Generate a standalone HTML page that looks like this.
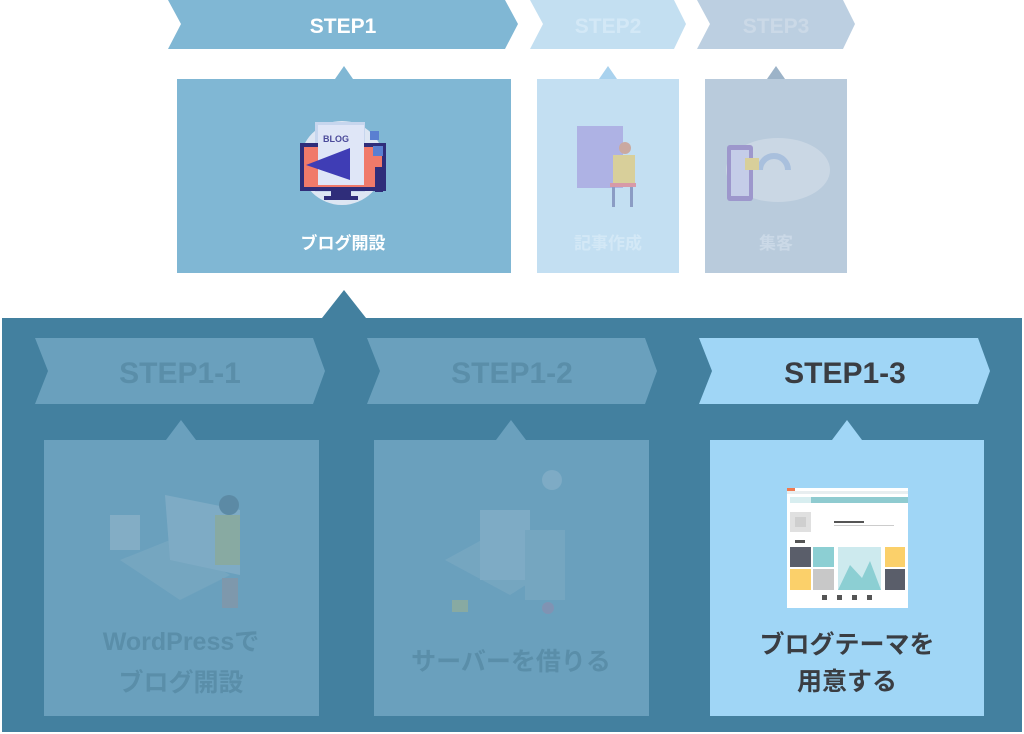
<!DOCTYPE html>
<html><head><meta charset="utf-8"><style>
html,body{margin:0;padding:0;background:#fff;}
svg{display:block;}
text{font-family:"Liberation Sans","Noto Sans CJK JP",sans-serif;font-weight:bold;text-anchor:middle;}
</style></head><body>
<svg width="1024" height="734" viewBox="0 0 1024 734" xmlns="http://www.w3.org/2000/svg">
<polygon points="168,0 505,0 518,24 505,49 168,49 181,24" fill="#80b7d4"/>
<polygon points="530,0 674,0 686,24 674,49 530,49 543,24" fill="#c3dff1"/>
<polygon points="697,0 843,0 855,24 843,49 697,49 710,24" fill="#bccfe1"/>
<text x="343" y="33" font-size="21" fill="#fff">STEP1</text>
<text x="608" y="33" font-size="21" fill="#d3e8f6">STEP2</text>
<text x="776" y="33" font-size="21" fill="#cbd9e7">STEP3</text>
<polygon points="344,66 353,79 335,79" fill="#80b7d4"/>
<rect x="177" y="79" width="334" height="194" fill="#80b7d4"/>
<polygon points="608,66 617,79 599,79" fill="#a9d2ee"/>
<rect x="537" y="79" width="142" height="194" fill="#c3dff2"/>
<polygon points="776,66 785,79 767,79" fill="#9cb3c8"/>
<rect x="705" y="79" width="142" height="194" fill="#b9cbdc"/>
<circle cx="342" cy="163" r="42" fill="#dde6f3"/>
<rect x="315" y="122" width="50" height="70" fill="#c7d6ee"/>
<rect x="300" y="143" width="86" height="48" fill="#2f2d7a"/>
<rect x="304" y="147" width="78" height="40" fill="#f07a6a"/>
<rect x="318" y="125" width="46" height="60" fill="#dfe6f7"/>
<text x="336" y="142" font-size="9" fill="#4b4a9a" font-weight="normal">BLOG</text>
<polygon points="306,165 350,148 350,180" fill="#3f3db5"/>
<rect x="331" y="191" width="20" height="6" fill="#2f2d7a"/>
<rect x="324" y="196" width="34" height="4" fill="#2f2d7a"/>
<rect x="375" y="167" width="8" height="25" fill="#2f2d7a"/>
<rect x="370" y="131" width="9" height="9" fill="#5a7fd1"/>
<rect x="373" y="146" width="10" height="10" fill="#5a7fd1"/>
<text x="343" y="249" font-size="17" fill="#fff">ブログ開設</text>
<rect x="577" y="126" width="46" height="62" fill="#a9a6e0" opacity=".8"/>
<rect x="613" y="155" width="22" height="28" fill="#d8cf9a"/>
<rect x="610" y="183" width="26" height="4" fill="#d79aa8"/>
<rect x="612" y="187" width="3" height="20" fill="#8b9cc4"/>
<rect x="630" y="187" width="3" height="20" fill="#8b9cc4"/>
<circle cx="625" cy="148" r="6" fill="#caa9a0"/>
<text x="608" y="249" font-size="17" fill="#d3e8f6">記事作成</text>
<ellipse cx="778" cy="170" rx="52" ry="32" fill="#cad7e4"/>
<rect x="727" y="145" width="26" height="56" rx="3" fill="#9d97cc"/>
<rect x="731" y="150" width="18" height="46" fill="#c5cde8"/>
<path d="M760 170 a14 14 0 1 1 28 0" stroke="#a9c0dd" stroke-width="6" fill="none"/>
<rect x="745" y="158" width="14" height="12" fill="#d8cf9a"/>
<text x="776" y="249" font-size="17" fill="#cbd9e7">集客</text>
<rect x="2" y="318" width="1020" height="414" fill="#43809f"/>
<polygon points="344,290 366,318 322,318" fill="#43809f"/>
<polygon points="35,338 313,338 325,371 313,404 35,404 48,371" fill="#6aa0bd"/>
<polygon points="367,338 645,338 657,371 645,404 367,404 380,371" fill="#6aa0bd"/>
<polygon points="699,338 978,338 990,371 978,404 699,404 712,371" fill="#a0d6f6"/>
<text x="180" y="383" font-size="30" fill="#5a8ea9">STEP1-1</text>
<text x="512" y="383" font-size="30" fill="#5a8ea9">STEP1-2</text>
<text x="845" y="383" font-size="30" fill="#3a3d42">STEP1-3</text>
<polygon points="181,420 196,440 166,440" fill="#6aa0bd"/>
<rect x="44" y="440" width="275" height="276" fill="#6aa0bd"/>
<polygon points="511,420 526,440 496,440" fill="#6aa0bd"/>
<rect x="374" y="440" width="275" height="276" fill="#6aa0bd"/>
<polygon points="847,420 862,440 832,440" fill="#a0d6f6"/>
<rect x="710" y="440" width="274" height="276" fill="#a0d6f6"/>
<g opacity=".32">
<polygon points="120,560 170,540 230,575 180,600" fill="#8fb3c8"/>
<polygon points="165,495 240,510 240,575 170,560" fill="#a9c4d6"/>
<rect x="215" y="515" width="25" height="50" fill="#c8c06a"/>
<rect x="110" y="515" width="30" height="35" fill="#b9c9d6"/>
<circle cx="229" cy="505" r="10" fill="#3f5f74"/>
<rect x="222" y="578" width="16" height="30" fill="#a88a8a"/>
</g>
<text x="181" y="650" font-size="25" fill="#5a8ea9">WordPressで</text>
<text x="181" y="691" font-size="25" fill="#5a8ea9">ブログ開設</text>
<g opacity=".32">
<polygon points="445,560 500,530 565,560 510,595" fill="#8fb3c8"/>
<rect x="480" y="510" width="50" height="70" fill="#a9c4d6"/>
<rect x="525" y="530" width="40" height="70" fill="#8fb3c8"/>
<circle cx="552" cy="480" r="10" fill="#a9c4d6"/>
<circle cx="548" cy="608" r="6" fill="#b07aa0"/>
<rect x="452" y="600" width="16" height="12" fill="#c8c06a"/>
</g>
<text x="511" y="670" font-size="25" fill="#5a8ea9">サーバーを借りる</text>
<rect x="787" y="488" width="121" height="120" fill="#fff"/>
<rect x="787" y="488" width="8" height="3" fill="#f07a50"/>
<rect x="787" y="491" width="121" height="3" fill="#e8eef0"/>
<rect x="811" y="497" width="97" height="6" fill="#8fcbd0"/>
<rect x="790" y="497" width="21" height="6" fill="#d8eef0"/>
<rect x="790" y="512" width="21" height="20" fill="#e0e0e0"/>
<rect x="795" y="517" width="11" height="10" fill="#cfcfcf"/>
<rect x="795" y="540" width="10" height="3" fill="#555"/>
<rect x="834" y="521" width="30" height="2" fill="#555"/>
<rect x="834" y="525" width="60" height="1" fill="#ccc"/>
<rect x="790" y="547" width="21" height="20" fill="#5a5e6a"/>
<rect x="813" y="547" width="21" height="20" fill="#8ccfd3"/>
<rect x="838" y="547" width="43" height="43" fill="#cdeaee"/>
<polygon points="838,590 850,565 862,578 870,561 881,590" fill="#8ccfd3"/>
<rect x="885" y="547" width="20" height="20" fill="#fbd06a"/>
<rect x="790" y="569" width="21" height="21" fill="#fbd06a"/>
<rect x="813" y="569" width="21" height="21" fill="#c8c8c8"/>
<rect x="885" y="569" width="20" height="21" fill="#5a5e6a"/>
<rect x="822" y="595" width="5" height="5" fill="#555"/>
<rect x="837" y="595" width="5" height="5" fill="#555"/>
<rect x="852" y="595" width="5" height="5" fill="#555"/>
<rect x="867" y="595" width="5" height="5" fill="#555"/>
<text x="847" y="653" font-size="25" fill="#3a3d42">ブログテーマを</text>
<text x="847" y="690" font-size="25" fill="#3a3d42">用意する</text>
</svg>
</body></html>
